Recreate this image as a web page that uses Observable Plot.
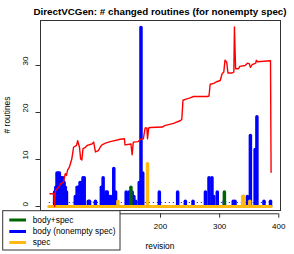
<!DOCTYPE html>
<html><head><meta charset="utf-8">
<script src="https://cdn.jsdelivr.net/npm/d3@7"></script>
<script src="https://cdn.jsdelivr.net/npm/@observablehq/plot@0.6"></script>
<style>body{margin:0;background:#fff} svg{display:block}</style>
</head><body><div id="chart"></div>
<script>
const title = "DirectVCGen: # changed routines (for nonempty spec)";
const xLabel = "revision";
const yLabel = "# routines";
const xTicks = [100, 200, 300, 400];
const xTickLabels = [200, 300, 400]; // the 100 label is hidden behind the legend
const yTicks = [0, 10, 20, 30];
const firstRev = 12;
const lastRev = 388;

// body (nonempty spec): nonzero values per revision
const bodyRev = [21,23,25,27,29,31,33,35,37,39,41, 56,59,61,64,66,69,71, 78,80,90,
  100,103,106,108,110,113,116,121,124, 142,147,150,152,155,158, 164,167,170,
  198,229,242,255, 276,282,287,290,296, 308,323,326, 340,347,352,360,363,375,386];
const bodyVal = [3,4,7,7,7,6,6,6,5,4,3, 2,4,4,5,5,6,6, 1,1,1,
  4,6,2,3,3,2,2,8,3, 3,3,2,3,2,1, 5,38,7,
  3,3,1,1, 3,6,6,2,3, 1,1,1, 2,2,15,12,19,1,1];
const bodyMean = 0.85;

// body+spec
const bothRev = [150, 308];
const bothVal = [4, 3];

// spec
const specRev = [128, 178, 339, 341, 351];
const specVal = [1, 9, 2, 2, 1];

// red line
const ratioRev = [13,20,21,22,23,28,31,36,39,41,43,46,50,53,58,60,63,65,67,69,73,76,84,87,90,95,98,101,107,115,
  132,139,140,150,152,154,162,166,171,174,177,178,180,183,203,207,222,234,236,238,242,250,256,279,282,284,
  290,296,301,304,307,309,312,314,321,324,325,327,332,334,343,347,350,352,355,361,362,364,375,386,387];
const ratioVal = [2.7,2.7,0,3,3.5,4.1,4.8,5.2,7,6.6,7.8,8.4,10.1,12.6,13,14,12.6,10.1,9.9,12.3,12.6,13,13.3,13.7,11.6,11.9,12.6,13.1,13.5,13.8,
  14.3,14.4,13.1,13.3,11,13.7,13.8,14.3,14.4,16.7,16.7,14.4,16.7,16.8,16.9,17.2,17.7,18.3,18.5,22.6,22.8,23.1,23.4,23.4,23.5,26,
  26.2,26.6,26.8,28.2,28.6,31.1,30.7,28.4,28.4,28.6,38.2,29.3,29.3,29.8,30,30.5,30.4,29.6,30.2,30.5,31.1,30.8,30.9,31,7.3];

const seriesNames = ["body+spec", "body (nonempty spec)", "spec"];
const seriesColors = ["#006400", "#0000FF", "#FFB90F"];
const lineColor = "#FF0000";

const body = bodyRev.map((r, i) => ({rev: r, value: bodyVal[i]}));
const both = bothRev.map((r, i) => ({rev: r, value: bothVal[i]}));
const spec = specRev.map((r, i) => ({rev: r, value: specVal[i]}));
const ratio = ratioRev.map((r, i) => ({rev: r, value: ratioVal[i]}));

const yMin = -0.85, yMax = 39.57;
const font = "'Liberation Sans', Arial, Helvetica, sans-serif";

const plot = Plot.plot({
  width: 294, height: 254,
  marginLeft: 40, marginRight: 14, marginTop: 20, marginBottom: 44,
  x: {domain: [-2.9, 402.9]},
  y: {domain: [yMin, yMax]},
  style: {fontFamily: font, fontSize: "8px", color: "#000", background: "#fff", overflow: "visible"},
  marks: [
    Plot.ruleX(body, {x: "rev", y1: 0, y2: "value", stroke: seriesColors[1], strokeWidth: 3.5, strokeLinecap: "round"}),
    Plot.ruleY([bodyMean], {x1: firstRev, x2: lastRev, stroke: seriesColors[1], strokeWidth: 1, strokeDasharray: "1,3"}),
    Plot.ruleX(both, {x: "rev", y1: 0, y2: "value", stroke: seriesColors[0], strokeWidth: 3.5, strokeLinecap: "round"}),
    Plot.ruleY([0], {x1: firstRev, x2: lastRev, stroke: seriesColors[2], strokeWidth: 3, strokeLinecap: "round"}),
    Plot.ruleX(spec, {x: "rev", y1: 0, y2: "value", stroke: seriesColors[2], strokeWidth: 3.5, strokeLinecap: "round"}),
    Plot.line(ratio, {x: "rev", y: "value", stroke: lineColor, strokeWidth: 1.4}),
    Plot.frame({stroke: "#333", strokeWidth: 1}),
    Plot.ruleY([yMin], {x1: xTicks[0], x2: xTicks[xTicks.length - 1], dy: 3.3, stroke: "#333"}),
    Plot.axisX(xTicks, {tickSize: 4.4, tickFormat: () => "", dy: 3.3, label: null, stroke: "#333"}),
    Plot.text(xTickLabels, {x: d => d, text: d => String(d), frameAnchor: "bottom", dy: 18, fill: "#000", fontSize: 8}),
    Plot.axisY(yTicks, {tickSize: 4.5, tickFormat: () => "", label: null, stroke: "#333"}),
    Plot.text(yTicks, {y: d => d, text: d => String(d), frameAnchor: "left", dx: -15, rotate: -90, fill: "#000", fontSize: 8})
  ]
});

const svg = d3.select(plot);
svg.append("text").attr("x", 160).attr("y", 15).attr("text-anchor", "middle")
  .attr("font-family", font).attr("font-weight", "bold").attr("font-size", "9.8px").attr("fill", "#000").text(title);
svg.append("text").attr("x", 160).attr("y", 249).attr("text-anchor", "middle")
  .attr("font-family", font).attr("font-size", "8.4px").attr("fill", "#000").text(xLabel);
svg.append("text").attr("transform", "translate(10,115) rotate(-90)").attr("text-anchor", "middle")
  .attr("font-family", font).attr("font-size", "8.4px").attr("fill", "#000").text(yLabel);

const lg = svg.append("g");
lg.append("rect").attr("x", 2.7).attr("y", 210.7).attr("width", 117.3).attr("height", 39.3)
  .attr("fill", "#fff").attr("stroke", "#333").attr("stroke-width", 1);
const rowY = [220, 231.5, 242.5];
seriesNames.forEach((name, i) => {
  lg.append("line").attr("x1", 9.3).attr("x2", 26).attr("y1", rowY[i]).attr("y2", rowY[i])
    .attr("stroke", seriesColors[i]).attr("stroke-width", 3);
  lg.append("text").attr("x", 32.7).attr("y", rowY[i]).attr("dy", "0.35em").attr("text-anchor", "start")
    .attr("font-family", font).attr("font-size", "8.4px").attr("fill", "#000").text(name);
});

document.getElementById("chart").appendChild(plot);
</script></body></html>
